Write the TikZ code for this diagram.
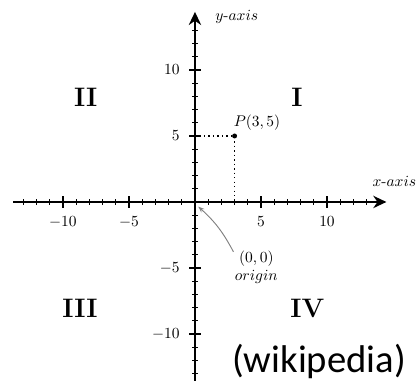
\documentclass[tikz,border=0pt]{standalone}
\usepackage{fontspec}
\newfontfamily\wikifont{Carlito}
\usetikzlibrary{arrows.meta}
\begin{document}
\begin{tikzpicture}[x=0.3cm,y=0.3cm,
    axis/.style={line width=1.2pt,-{Stealth[length=8.5pt,width=8pt]}},
    quadrant/.style={font=\LARGE\bfseries}]
  \useasboundingbox (-14.77,-13.56) rectangle (16.97,15.30);
  \coordinate (O) at (0,0);
  \coordinate (xmin) at (-13.75,0);
  \coordinate (xmax) at (14.5,0);
  \coordinate (ymin) at (0,-14.5);
  \coordinate (ymax) at (0,14.4);
  \draw[axis] (xmin) -- (xmax);
  \draw[axis] (ymin) -- (ymax);
  \foreach \t in {-13,...,13} {
    \draw[line width=0.6pt] (\t,-0.22) -- (\t,0.22);
    \draw[line width=0.6pt] (-0.22,\t) -- (0.22,\t);
  }
  \foreach \t in {-10,-5,5,10} {
    \draw[line width=1.2pt] (\t,-0.42) -- (\t,0.42);
    \draw[line width=1.2pt] (-0.42,\t) -- (0.42,\t);
    \node (xl\t) at (\t,-1.5) {$\t$};
    \node[left] (yl\t) at (-0.75,\t) {$\t$};
  }
  \node (xlab) at (15.1,1.54) {$x$-$axis$};
  \node (ylab) at (3.16,14.04) {$y$-$axis$};
  % the point P and its projections
  \coordinate (P) at (3,5);
  \coordinate (Px) at (3,0);
  \coordinate (Py) at (0,5);
  \draw[dotted, line width=0.9pt] (Py) -- (P) -- (Px);
  \fill (P) circle (1.6pt);
  \node (Plab) at (4.7,6.0) {$P(3,5)$};
  % quadrants
  \node[quadrant] (q1) at (7.73,7.9) {I};
  \node[quadrant] (q2) at (-8.28,7.9) {II};
  \node[quadrant] (q3) at (-8.71,-8.05) {III};
  \node[quadrant] (q4) at (8.52,-8.05) {IV};
  % origin
  \node[align=center] (orig) at (4.65,-4.95) {$(0,0)$\\$origin$};
  \coordinate (Otip) at (0.25,-0.35);
  \draw[gray, line width=0.6pt, -{Stealth[length=4pt,width=3pt]}]
    ([shift={(0.3,-0.5)}]orig.north west) to[bend right=10] (Otip);
  \node (wiki) at (9.4,-12.1) {\wikifont\fontsize{25}{30}\selectfont (wikipedia)};
\end{tikzpicture}
\end{document}
